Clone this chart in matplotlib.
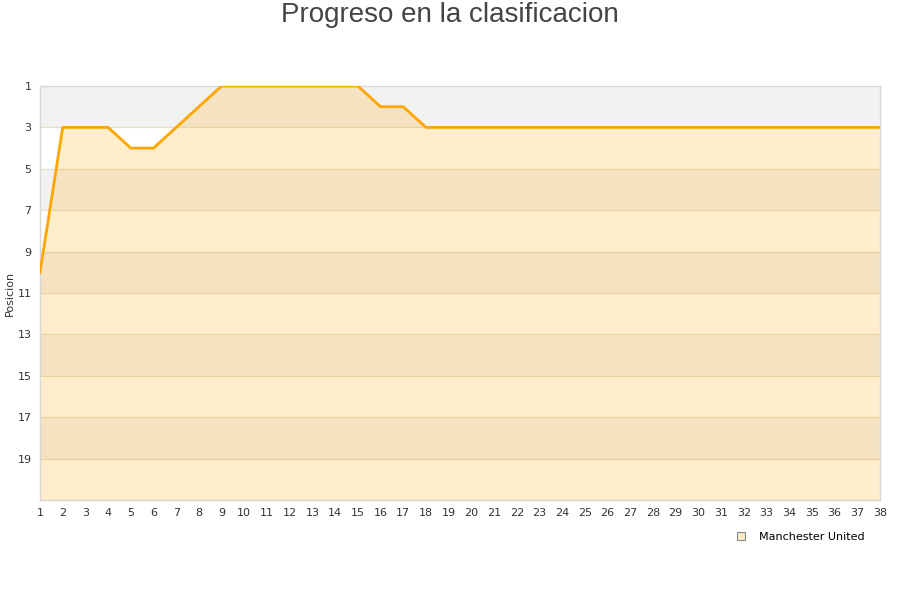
import matplotlib
matplotlib.use("Agg")
import matplotlib.pyplot as plt
from matplotlib.lines import Line2D

jornadas = list(range(1, 39))
posiciones = [10, 3, 3, 3, 4, 4, 3, 2, 1, 1, 1, 1, 1, 1, 1, 2, 2, 3,
              3, 3, 3, 3, 3, 3, 3, 3, 3, 3, 3, 3, 3, 3, 3, 3, 3, 3, 3, 3]
equipo = "Manchester United"
y_ticks = [1, 3, 5, 7, 9, 11, 13, 15, 17, 19]

fig = plt.figure(figsize=(9, 6), dpi=100)
ax = fig.add_axes([40/900, 100/600, 840/900, 414/600])

# alternating background bands
for i, y0 in enumerate(range(1, 21, 2)):
    if i % 2 == 0:
        ax.axhspan(y0, y0 + 2, color="#f2f2f2", zorder=0, lw=0)
for y in range(3, 21, 2):
    ax.axhline(y, color="#e6dcc8", lw=0.8, zorder=1)

ax.fill_between(jornadas, posiciones, 21, color="#ffa500", alpha=0.2, lw=0, zorder=2)
ax.plot(jornadas, posiciones, color="#ffa500", lw=2, zorder=3)

ax.set_xlim(1, 38)
ax.set_ylim(21, 1)
ax.set_xticks(jornadas)
ax.set_yticks(y_ticks)
ax.tick_params(axis="both", length=0, labelsize=8, colors="#333333", pad=6)
ax.set_ylabel("Posicion", fontsize=8, color="#333333", labelpad=2)
for s in ax.spines.values():
    s.set_color("#d8d8d8")
    s.set_linewidth(1)

fig.text(0.5, 0.975, "Progreso en la clasificacion", ha="center", va="center",
         fontsize=20, color="#444444", family="Liberation Sans")

handle = Line2D([], [], marker="s", linestyle="none", markersize=6,
                markerfacecolor="#fde9c4", markeredgecolor="#888888", markeredgewidth=0.8)
fig.legend([handle], [equipo], loc="center right", bbox_to_anchor=(0.972, 0.105),
           frameon=False, fontsize=8, handletextpad=0.6)

fig.savefig("out.png", dpi=100)
